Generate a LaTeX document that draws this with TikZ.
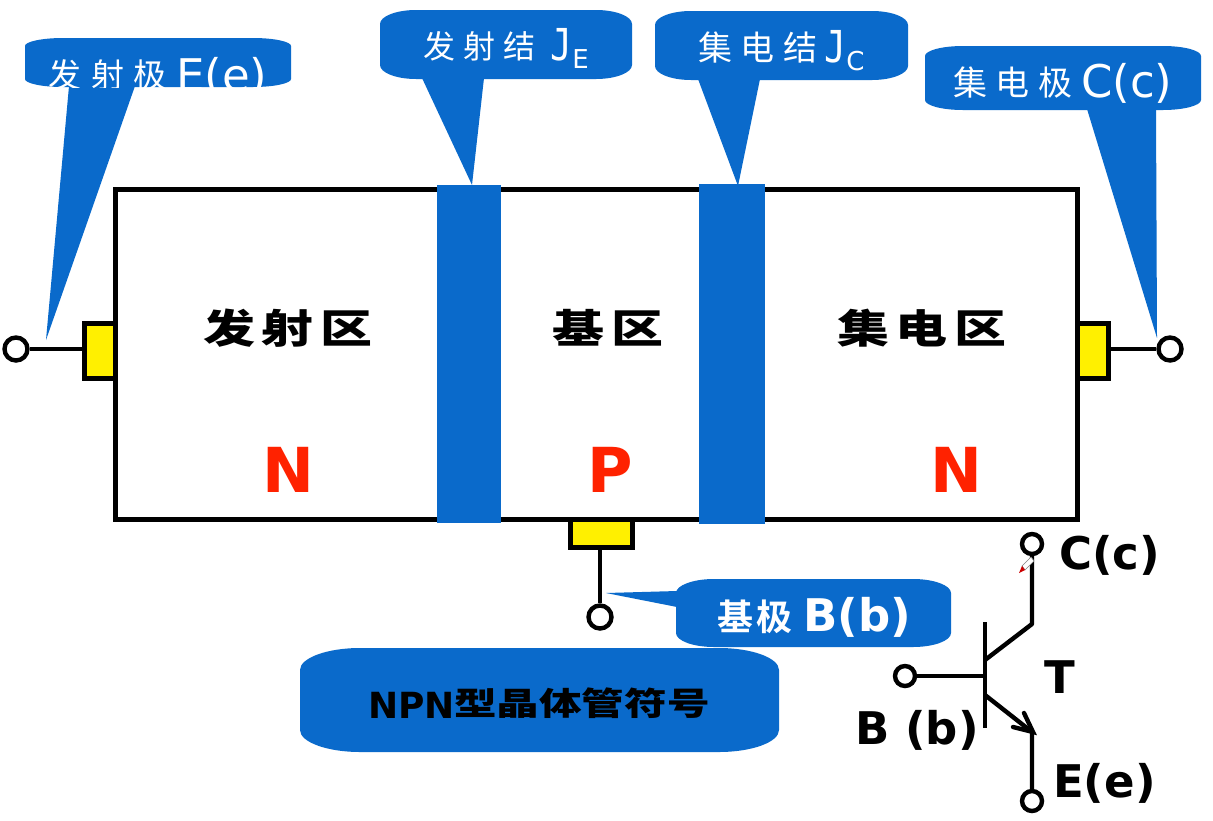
\documentclass[tikz,border=0pt]{standalone}
\usepackage{fontspec}
\setmainfont{DejaVu Sans}
\newfontfamily\jfont{DejaVu Sans Mono}
\newfontfamily\cjkhv[LetterSpace=12]{Noto Sans CJK SC Black}
\newfontfamily\cjkmid[LetterSpace=25]{Noto Sans CJK SC}
\newfontfamily\cjkwide[LetterSpace=30]{Noto Sans CJK SC}
\newfontfamily\cjkbm[LetterSpace=10]{Noto Sans CJK SC Bold}
\newfontfamily\cjkb{Noto Sans CJK SC Black}
\definecolor{bubblue}{HTML}{0A6ACB}
\definecolor{padyel}{HTML}{FFF000}
\definecolor{npred}{HTML}{FF2200}
\newcommand{\jsub}[1]{\scalebox{0.82}[1]{\fontsize{44}{44}\selectfont\jfont J}\kern0.5pt\raisebox{-8pt}{\fontsize{26}{26}\selectfont\normalfont #1}}
\tikzset{
  bub/.style={fill=bubblue,draw=none},
  wire/.style={draw=black,line width=4pt},
  frameline/.style={draw=black,line width=5pt},
  pad/.style={fill=padyel,draw=black,line width=5pt},
  term/.style={circle,draw=black,fill=white,line width=4.4pt,minimum size=23pt,inner sep=0pt},
  whitetxt/.style={text=white,inner sep=0pt,anchor=west},
  blacktxt/.style={text=black,inner sep=0pt},
  regiontxt/.style={text=black,inner sep=0pt,font=\fontsize{40}{40}\selectfont\cjkhv},
  typetxt/.style={text=npred,inner sep=0pt,font=\fontsize{62}{62}\selectfont\bfseries},
  symtxt/.style={text=black,inner sep=0pt,font=\fontsize{45}{45}\selectfont\bfseries}
}
% x1 y1 x2 y2 rx ry
\newcommand{\bubshape}[6]{%
  \fill[bub] ({#1},{#2+#6}) .. controls ({#1},{#2+0.45*#6}) and ({#1+0.45*#5},{#2}) .. ({#1+#5},{#2})
   -- ({#3-#5},{#2}) .. controls ({#3-0.45*#5},{#2}) and ({#3},{#2+0.45*#6}) .. ({#3},{#2+#6})
   -- ({#3},{#4-#6}) .. controls ({#3},{#4-0.45*#6}) and ({#3-0.45*#5},{#4}) .. ({#3-#5},{#4})
   -- ({#1+#5},{#4}) .. controls ({#1+0.45*#5},{#4}) and ({#1},{#4-0.45*#6}) .. ({#1},{#4-#6}) -- cycle;}
\begin{document}
\begin{tikzpicture}[x=1pt,y=-1pt]
\useasboundingbox (0,0) rectangle (1213,820);
\fill[white] (0,0) rectangle (1213,820);

% main frame
\draw[frameline,fill=white] (115,189) rectangle (1077,519);

% pads
\draw[pad] (84,323) rectangle (115,378);
\draw[pad] (1077,323) rectangle (1108,378);
\draw[pad] (570,519) rectangle (632,547);
\draw[frameline] (115,189) -- (115,519) (1077,189) -- (1077,519) (115,519) -- (1077,519);

% junction bars
\fill[bub] (437,185) rectangle (501,523);
\fill[bub] (699,184) rectangle (765,524);

% terminals
\node[term] (te) at (16,349) {};
\node[term] (tc) at (1170,349) {};
\node[term] (tb) at (600,617) {};
\coordinate (pe) at (84,349);
\coordinate (pc) at (1108,349);
\coordinate (pb) at (600,547);
\draw[wire] (te) -- (pe);
\draw[wire] (tc) -- (pc);
\draw[wire] (tb) -- (pb);

% callouts
\bubshape{25}{38}{291}{87}{38}{8}
\fill[bub] (69,86) -- (135,86) -- (46,340) -- cycle;
\bubshape{380}{10}{632}{79}{36}{14}
\fill[bub] (422,78) -- (484,78) -- (472,185) -- cycle;
\bubshape{655}{11}{908}{80}{36}{14}
\fill[bub] (698,79) -- (760,79) -- (738,186) -- cycle;
\bubshape{925}{46}{1201}{110}{38}{10}
\fill[bub] (1087,109) -- (1156,109) -- (1157,338) -- cycle;
\bubshape{676}{579}{951}{647}{38}{14}
\fill[bub] (677,591) -- (677,607) -- (606,593) -- cycle;
\bubshape{300}{648}{779}{752}{60}{22}

% callout text
\begin{scope}
\clip (25,38) rectangle (291,87);
\node[whitetxt,font=\fontsize{33}{33}\selectfont\cjkwide] (le1) at (48,75) {发射极};
\node[whitetxt,font=\fontsize{45}{45}\selectfont] (le2) at (176,77) {E(e)};
\end{scope}
\node[whitetxt,font=\fontsize{32}{32}\selectfont\cjkmid] (lj1) at (423,46) {发射结};
\node[whitetxt,anchor=base west] (lj2) at (550,60) {\jsub{E}};
\node[whitetxt,font=\fontsize{34}{34}\selectfont\cjkmid] (lk1) at (698,48) {集电结};
\node[whitetxt,anchor=base west] (lk2) at (824,62) {\jsub{C}};
\node[whitetxt,font=\fontsize{34}{34}\selectfont\cjkmid] (lc1) at (953,83) {集电极};
\node[whitetxt,font=\fontsize{45}{45}\selectfont] (lc2) at (1081,83) {C(c)};
\node[whitetxt,font=\fontsize{36}{36}\selectfont\cjkbm,text=white] (lb1) at (717,617) {基极};
\node[whitetxt,font=\fontsize{45}{45}\selectfont\bfseries] (lb2) at (803,617) {B(b)};
\node[blacktxt,anchor=west,font=\fontsize{36}{36}\selectfont\bfseries] (ln1) at (368,705) {NPN};
\node[blacktxt,anchor=west,font=\fontsize{32}{32}\selectfont\cjkb] (ln2) at (454,703) {\scalebox{1.33}[1]{型晶体管符号}};

% regions
\node[regiontxt,anchor=center] (r1) at (288,328) {\scalebox{1.3}[1]{发射区}};
\node[regiontxt,anchor=center] (r2) at (608,328) {\scalebox{1.3}[1]{基区}};
\node[regiontxt,anchor=center] (r3) at (922,328) {\scalebox{1.3}[1]{集电区}};
\node[typetxt] (n1) at (288,470) {N};
\node[typetxt] (n2) at (610,470) {P};
\node[typetxt] (n3) at (956,470) {N};

% transistor symbol
\node[term,minimum size=20pt] (sc) at (1032,544) {};
\node[term,minimum size=20pt] (sb) at (905,676) {};
\node[term,minimum size=20pt] (se) at (1032,801) {};
\coordinate (sbb) at (985,676);
\coordinate (cknee) at (1032,624);
\coordinate (cbase) at (985,660);
\coordinate (ebase) at (985,695);
\coordinate (eknee) at (1032,732);
\draw[wire,line width=4.4pt] (985,622) -- (985,728);
\draw[wire,line width=4.4pt] (sb) -- (sbb);
\draw[wire,line width=4.4pt,line join=round] (sc) -- (cknee) -- (cbase);
\draw[wire,line width=4.4pt,line join=miter] (ebase) -- (eknee) -- (se);
\draw[wire,line width=4.4pt,line cap=round] (1013,727) -- (1033,732) -- (1024,713);
\node[symtxt,anchor=west] (sy1) at (1059,555) {C(c)};
\node[symtxt,anchor=center] (sy2) at (1060,677) {T};
\node[symtxt,anchor=center] (sy3) at (917,730) {B (b)};
\node[symtxt,anchor=west] (sy4) at (1053,783) {E(e)};

% pointer
\fill[white,draw=gray,line width=0.6pt] (1031,557) -- (1034,561) -- (1025,570) -- (1022,566) -- cycle;
\fill[red!80!black] (1022,566) -- (1025,570) -- (1019,573) -- cycle;
\end{tikzpicture}
\end{document}
